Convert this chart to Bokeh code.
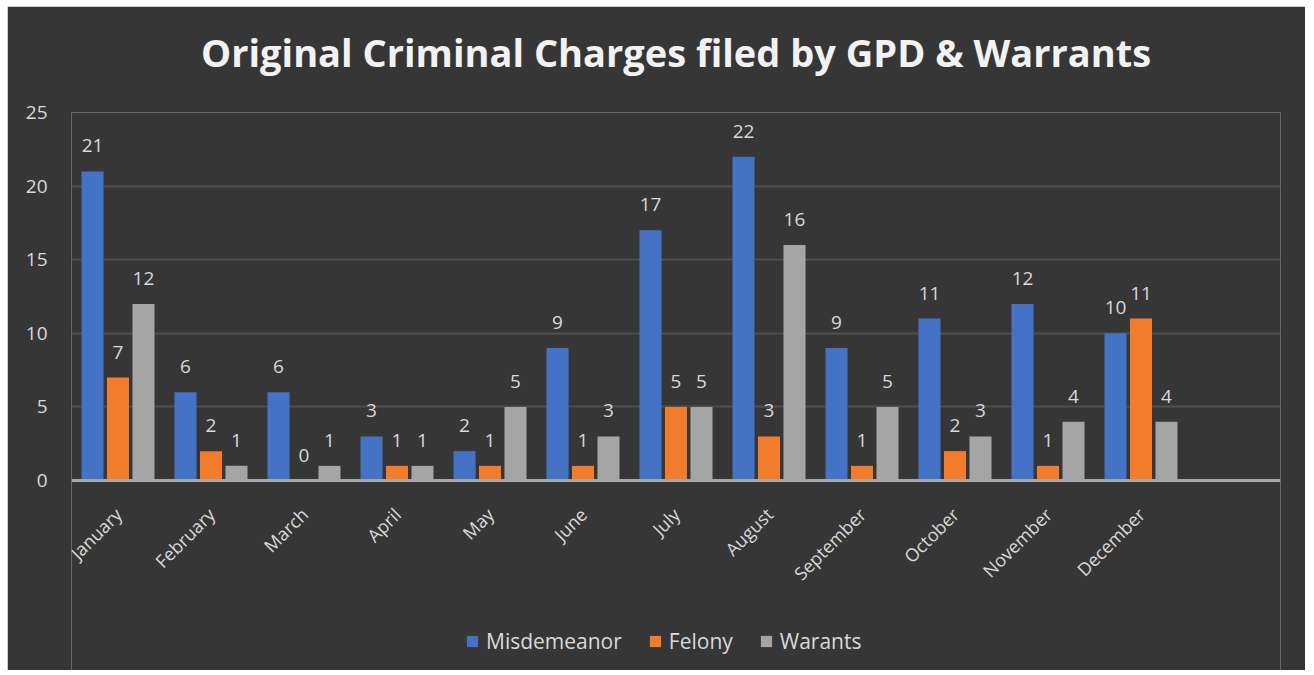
from bokeh.plotting import figure
from bokeh.models import (FactorRange, ColumnDataSource, Legend, LegendItem,
                          FixedTicker, Title, Span)
from bokeh.transform import dodge
from bokeh.core.properties import value
from bokeh.embed import file_html
from bokeh.resources import INLINE
import math

months = ["January", "February", "March", "April", "May", "June", "July",
          "August", "September", "October", "November", "December"]
misdemeanor = [21, 6, 6, 3, 2, 9, 17, 22, 9, 11, 12, 10]
felony = [7, 2, 0, 1, 1, 1, 5, 3, 1, 2, 1, 11]
warrants = [12, 1, 1, 1, 5, 3, 5, 16, 5, 3, 4, 4]
y_ticks = [0, 5, 10, 15, 20, 25]
series_names = ["Misdemeanor", "Felony", "Warants"]
colors = ["#4472C4", "#F07C2C", "#A5A5A5"]

FONT = "Open Sans"
TXT = "#d9d9d9"
BG = "#363636"

src = ColumnDataSource(dict(
    month=months,
    zero=[0] * len(months),
    mis=misdemeanor, fel=felony, war=warrants,
    mis_t=[str(v) for v in misdemeanor],
    fel_t=[str(v) for v in felony],
    war_t=[str(v) for v in warrants],
))

# plot area extends below zero so the month labels and legend sit inside it
p = figure(x_range=FactorRange(*months, " "), y_range=(-12.9, 25),
           frame_width=1209, frame_height=558, output_backend="svg", toolbar_location=None,
           min_border_left=64, min_border_right=25, min_border_top=106,
           min_border_bottom=0)
p.margin = (6, 0, 0, 7)
p.x_range.range_padding = 0
p.background_fill_color = BG
p.border_fill_color = BG
p.outline_line_color = None

p.title.text = "Original Criminal Charges filed by GPD & Warrants"
p.title.align = "center"
p.title.offset = -19
p.title.text_font = FONT
p.title.text_font_size = "38px"
p.title.text_font_style = "bold"
p.title.text_color = "#f2f2f2"
p.title.standoff = 0

# blank spacer between title and plot area
p.add_layout(Title(text=" ", text_font_size="10px", standoff=22), "above")

offsets = [-0.274, 0.0, 0.274]
fields = ["mis", "fel", "war"]
renderers = []
for off, f, c in zip(offsets, fields, colors):
    r = p.vbar(x=dodge("month", off, range=p.x_range), top=f, width=0.237,
               source=src, fill_color=c, line_color=None)
    renderers.append(r)
    p.text(x=dodge("month", off, range=p.x_range), y=f, text=f + "_t", source=src,
           text_align="center", text_baseline="bottom", y_offset=-19,
           text_font=value(FONT), text_font_size="19px", text_color=TXT)

# category (month) labels, rotated like the original axis labels
p.text(x="month", y="zero", text="month", source=src, angle=math.pi / 4,
       text_align="right", text_baseline="top", x_offset=-8, y_offset=22,
       text_font=value(FONT), text_font_size="18px", text_color=TXT)

p.xaxis.visible = False

p.yaxis.ticker = FixedTicker(ticks=y_ticks)
p.yaxis.axis_line_color = None
p.yaxis.major_tick_line_color = None
p.yaxis.minor_tick_line_color = None
p.yaxis.major_label_text_font = FONT
p.yaxis.major_label_text_font_size = "19px"
p.yaxis.major_label_text_color = TXT
p.yaxis.major_label_standoff = 18

p.xgrid.grid_line_color = None
p.ygrid.grid_line_color = "#4f4f4f"
p.ygrid.grid_line_width = 2

p.add_layout(Span(location=0, dimension="width", line_color="#a6a6a6", line_width=3))

legend = Legend(items=[LegendItem(label=n, renderers=[r]) for n, r in zip(series_names, renderers)],
                orientation="horizontal", location=(392, 13))
legend.background_fill_alpha = 0
legend.border_line_alpha = 0
legend.label_text_font = FONT
legend.label_text_font_size = "21px"
legend.label_text_color = TXT
legend.glyph_width = 14
legend.glyph_height = 14
legend.spacing = 26
legend.label_standoff = 7
legend.margin = 0
legend.padding = 2
p.add_layout(legend, "center")

open("out.html", "w").write(file_html(p, INLINE))
